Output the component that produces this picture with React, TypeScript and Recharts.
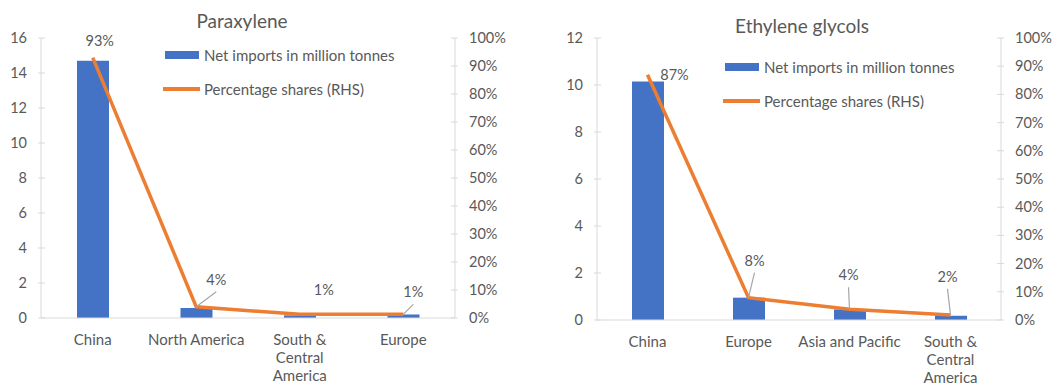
import { Bar, ComposedChart, LabelList, Line, XAxis, YAxis } from "recharts";

// Paraxylene
const pxCategories = ["China", "North America", "South &\nCentral\nAmerica", "Europe"];
const pxImports = [14.7, 0.57, 0.15, 0.2];
const pxShares = [93, 4, 1.3, 1.3];
const pxLeftTicks = [0, 2, 4, 6, 8, 10, 12, 14, 16];

// Ethylene glycols
const egCategories = ["China", "Europe", "Asia and Pacific", "South &\nCentral\nAmerica"];
const egImports = [10.15, 0.95, 0.45, 0.18];
const egShares = [87, 7.9, 3.8, 1.8];
const egLeftTicks = [0, 2, 4, 6, 8, 10, 12];

const pctTicks = [0, 10, 20, 30, 40, 50, 60, 70, 80, 90, 100];

// label placement relative to the line point (dx, dy) and whether a leader line is drawn
const pxLabelPos = [
  { dx: 7, dy: -17, lead: false },
  { dx: 20, dy: -27, lead: true },
  { dx: 24, dy: -24, lead: false },
  { dx: 10, dy: -22, lead: true },
];
const egLabelPos = [
  { dx: 27, dy: 0, lead: false },
  { dx: 6, dy: -37, lead: true },
  { dx: -1, dy: -34, lead: true },
  { dx: -3, dy: -38, lead: true },
];

const FONT = "Lato, 'Open Sans', sans-serif";
const TEXT = "#595959";
const GRID = "#d9d9d9";
const BLUE = "#4472C4";
const ORANGE = "#ED7D31";
const MARGIN = 14;

const leftTick = (props: any) => {
  const { x, y, payload } = props;
  const ax = x + MARGIN;
  return (
    <g>
      <line x1={ax - 3} x2={ax + 4} y1={y} y2={y} stroke={GRID} />
      <text x={x} y={y} dy={5} textAnchor="end" fill={TEXT} fontSize={14.5} fontFamily={FONT}>
        {payload.value}
      </text>
    </g>
  );
};

const rightTick = (props: any) => {
  const { x, y, payload } = props;
  const ax = x - MARGIN;
  return (
    <g>
      <line x1={ax - 4} x2={ax + 3} y1={y} y2={y} stroke={GRID} />
      <text x={x} y={y} dy={5} textAnchor="start" fill={TEXT} fontSize={14.5} fontFamily={FONT}>
        {`${payload.value}%`}
      </text>
    </g>
  );
};

const catTick = (props: any) => {
  const { x, y, payload } = props;
  const lines = String(payload.value).split("\n");
  return (
    <text x={x} y={y} textAnchor="middle" fill={TEXT} fontSize={15} fontFamily={FONT}>
      {lines.map((l, i) => (
        <tspan key={i} x={x} y={y + 25 + i * 18}>
          {l}
        </tspan>
      ))}
    </text>
  );
};

const makeShareLabel = (pos: { dx: number; dy: number; lead: boolean }[]) => (props: any) => {
  const x = props.x ?? props.viewBox?.x;
  const y = props.y ?? props.viewBox?.y;
  const { index, value } = props;
  const p = pos[index];
  if (x == null || y == null || !p) return null;
  const lx = x + p.dx;
  const ly = y + p.dy;
  return (
    <g>
      {p.lead && (
        <line x1={x} y1={y} x2={lx} y2={ly + 12} stroke="#a6a6a6" strokeWidth={1.2} />
      )}
      <text x={lx} y={ly} dy={5} textAnchor="middle" fill={TEXT} fontSize={14.5} fontFamily={FONT}>
        {`${Math.round(value)}%`}
      </text>
    </g>
  );
};

function LegendBox({ left, top }: { left: number; top: number }) {
  return (
    <div
      style={{ position: "absolute", left, top, fontFamily: FONT, fontSize: 15, color: TEXT }}
    >
      <div style={{ display: "flex", alignItems: "center", height: 20 }}>
        <span style={{ width: 34, height: 8, background: BLUE, marginLeft: 2, marginRight: 5 }} />
        Net imports in million tonnes
      </div>
      <div style={{ display: "flex", alignItems: "center", height: 20, marginTop: 14 }}>
        <span style={{ width: 37, height: 4, background: ORANGE, marginRight: 4 }} />
        Percentage shares (RHS)
      </div>
    </div>
  );
}

type Panel = {
  title: string;
  categories: string[];
  imports: number[];
  shares: number[];
  leftTicks: number[];
  labelPos: { dx: number; dy: number; lead: boolean }[];
  width: number;
  leftW: number;
  rightW: number;
  xH: number;
  titleX: number;
  titleY: number;
  legendX: number;
  legendY: number;
};

function ShareChart(p: Panel) {
  const data = p.categories.map((c, i) => ({ name: c, imports: p.imports[i], share: p.shares[i] }));
  const maxLeft = p.leftTicks[p.leftTicks.length - 1];
  return (
    <div style={{ position: "relative", width: p.width, height: 385 }}>
      <ComposedChart
        width={p.width}
        height={385}
        data={data}
        margin={{ top: 38, right: 0, bottom: 0, left: 0 }}
        barCategoryGap={0}
      >
        <XAxis
          dataKey="name"
          interval={0}
          height={p.xH}
          tickLine={false}
          tickSize={0}
          axisLine={{ stroke: GRID }}
          tick={catTick}
        />
        <YAxis
          yAxisId="left"
          width={p.leftW}
          domain={[0, maxLeft]}
          ticks={p.leftTicks}
          interval={0}
          tickLine={false}
          tickSize={0}
          tickMargin={MARGIN}
          axisLine={{ stroke: GRID }}
          tick={leftTick}
        />
        <YAxis
          yAxisId="right"
          orientation="right"
          width={p.rightW}
          domain={[0, 100]}
          ticks={pctTicks}
          interval={0}
          tickLine={false}
          tickSize={0}
          tickMargin={MARGIN}
          axisLine={{ stroke: GRID }}
          tick={rightTick}
        />
        <Bar yAxisId="left" dataKey="imports" fill={BLUE} barSize={32} isAnimationActive={false} />
        <Line
          yAxisId="right"
          dataKey="share"
          type="linear"
          stroke={ORANGE}
          strokeWidth={3.5}
          dot={false}
          isAnimationActive={false}
        >
          <LabelList dataKey="share" content={makeShareLabel(p.labelPos)} />
        </Line>
      </ComposedChart>
      <LegendBox left={p.legendX} top={p.legendY} />
      <div
        style={{
          position: "absolute",
          left: p.titleX - 150,
          width: 300,
          top: p.titleY - 12,
          textAlign: "center",
          fontFamily: FONT,
          fontSize: 19,
          color: TEXT,
          lineHeight: "24px",
        }}
      >
        {p.title}
      </div>
    </div>
  );
}

export default function App() {
  return (
    <div
      style={{
        position: "absolute",
        left: 0,
        top: 0,
        width: 1064,
        height: 385,
        background: "#fff",
        display: "flex",
        overflow: "hidden",
      }}
    >
      <ShareChart
        title="Paraxylene"
        categories={pxCategories}
        imports={pxImports}
        shares={pxShares}
        leftTicks={pxLeftTicks}
        labelPos={pxLabelPos}
        width={530}
        leftW={41}
        rightW={75}
        xH={67}
        titleX={242}
        titleY={21}
        legendX={163}
        legendY={45}
      />
      <ShareChart
        title="Ethylene glycols"
        categories={egCategories}
        imports={egImports}
        shares={egShares}
        leftTicks={egLeftTicks}
        labelPos={egLabelPos}
        width={534}
        leftW={67}
        rightW={63}
        xH={65}
        titleX={272}
        titleY={26}
        legendX={193}
        legendY={57}
      />
    </div>
  );
}
